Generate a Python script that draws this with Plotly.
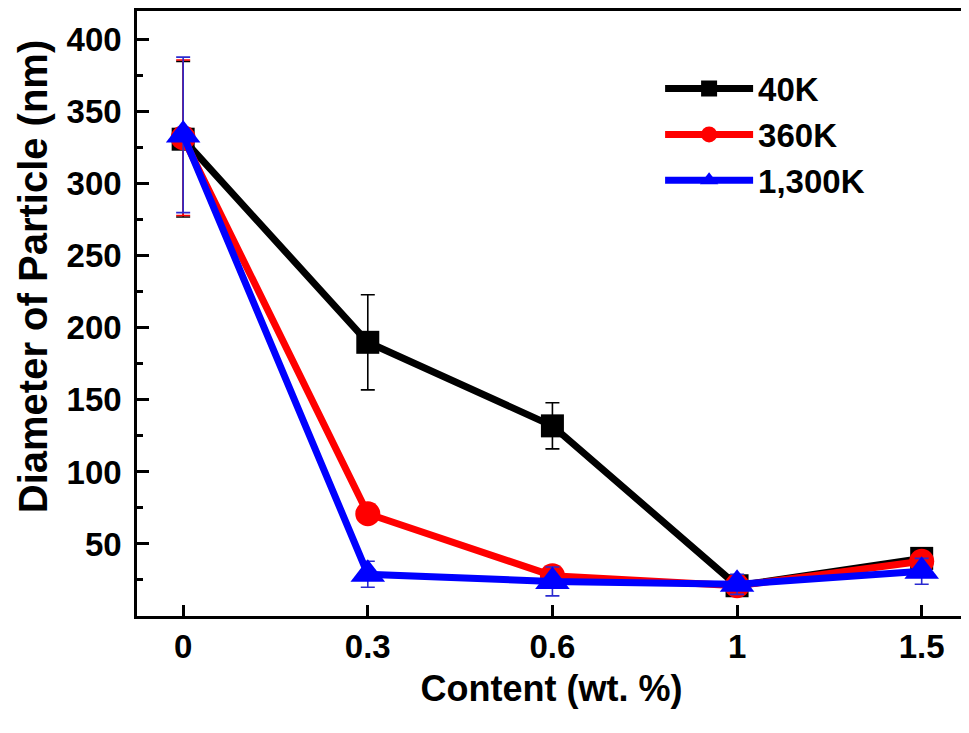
# %% Particle diameter vs content - Plotly recreation

import plotly.graph_objects as go


# %% Data

content_labels = ["0", "0.3", "0.6", "1", "1.5"]

series_names = ["40K", "360K", "1,300K"]

diameter_40k = [331, 190, 132, 21, 40]
error_40k = [54, 33, 16, 3, 4]

diameter_360k = [332, 71, 28, 21, 38]
error_360k = [54, 4, 5, 3, 4]

diameter_1300k = [334, 29, 24, 22, 31]
error_1300k = [54, 9, 10, 7, 9]

y_tick_values = [50, 100, 150, 200, 250, 300, 350, 400]


# %% Styles

font_family = "Liberation Sans, Arial, sans-serif"
series_styles = [
    {"color": "black", "symbol": "square", "size": 23, "err_color": "black"},
    {"color": "#ff0000", "symbol": "circle", "size": 25, "err_color": "#ff0000"},
    {"color": "#0000ff", "symbol": "triangle-up", "size": 30, "err_color": "#2a2ad0"},
]

series_values = [diameter_40k, diameter_360k, diameter_1300k]
series_errors = [error_40k, error_360k, error_1300k]


# %% Build figure

fig = go.Figure()

for name, values, errors, style in zip(series_names, series_values, series_errors, series_styles):
    fig.add_trace(go.Scatter(
        x=content_labels,
        y=values,
        name=name,
        mode="lines+markers",
        line={"color": style["color"], "width": 7},
        marker={"symbol": style["symbol"], "size": style["size"], "color": style["color"],
                "line": {"width": 0}},
        error_y={"type": "data", "array": errors, "visible": True,
                 "color": style["err_color"], "thickness": 1.6, "width": 7},
    ))

fig.update_xaxes(
    type="category",
    range=[-0.25, 4.24],
    title_text="Content (wt. %)",
    title_font={"size": 36, "family": font_family, "weight": "bold", "color": "black"},
    title_standoff=12,
    tickfont={"size": 33, "family": font_family, "weight": "bold", "color": "black"},
    ticks="inside",
    ticklen=11,
    tickwidth=2.5,
    tickcolor="black",
    showline=True,
    linewidth=2.5,
    linecolor="black",
    mirror=True,
    showgrid=False,
    zeroline=False,
)

fig.update_yaxes(
    range=[0, 420],
    tickvals=y_tick_values,
    tickfont={"size": 33, "family": font_family, "weight": "bold", "color": "black"},
    ticklabelstandoff=6,
    ticks="inside",
    ticklen=12,
    tickwidth=2.5,
    tickcolor="black",
    minor={"dtick": 25, "ticks": "inside", "ticklen": 6, "tickwidth": 2.5, "tickcolor": "black",
           "showgrid": False},
    showline=True,
    linewidth=2.5,
    linecolor="black",
    mirror=True,
    showgrid=False,
    zeroline=False,
)

# y title placed as an annotation so it can sit a little above centre, as in the original
fig.add_annotation(
    text="Diameter of Particle (nm)",
    xref="paper",
    yref="paper",
    x=0,
    y=0.56,
    xanchor="center",
    yanchor="middle",
    xshift=-104,
    textangle=-90,
    borderpad=0,
    showarrow=False,
    font={"size": 40, "family": font_family, "weight": "bold", "color": "black"},
)

fig.update_layout(
    width=961,
    height=725,
    plot_bgcolor="white",
    paper_bgcolor="white",
    margin={"l": 129, "r": 2, "t": 0, "b": 117},
    font={"family": font_family, "color": "black"},
    showlegend=True,
    legend={
        "x": 0.631,
        "y": 0.918,
        "xanchor": "left",
        "yanchor": "top",
        "bgcolor": "rgba(0,0,0,0)",
        "font": {"size": 33, "family": font_family, "weight": "bold", "color": "black"},
        "itemwidth": 88,
    },
)

fig.write_html("out.html")
